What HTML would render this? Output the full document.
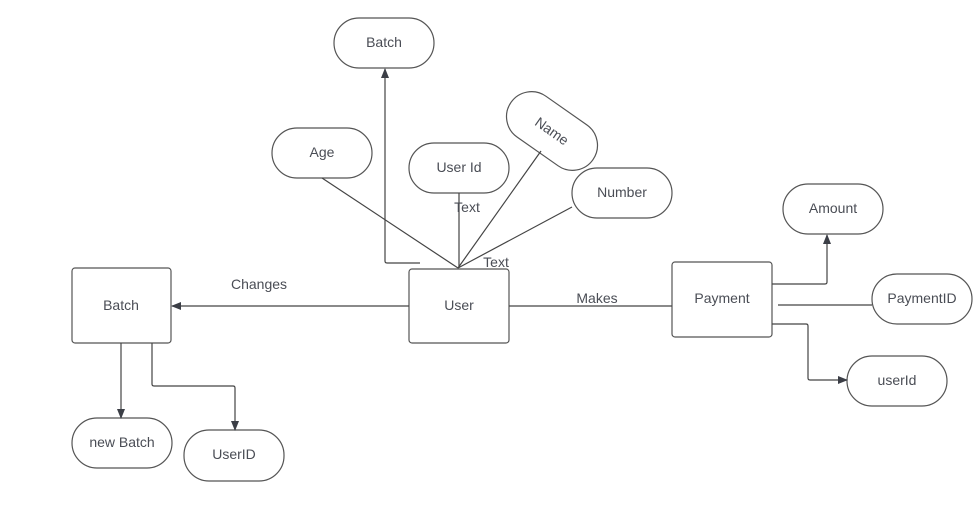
<!DOCTYPE html>
<html><head><meta charset="utf-8"><style>
html,body{margin:0;padding:0;background:#fff;}
svg{display:block;}
text{font-family:"Liberation Sans",sans-serif;font-size:14px;fill:#4a4d55;}
</style></head><body>
<svg width="978" height="512" viewBox="0 0 978 512" xmlns="http://www.w3.org/2000/svg">
<defs>
<marker id="a" markerWidth="10" markerHeight="10" refX="9" refY="5" orient="auto" markerUnits="userSpaceOnUse">
<path d="M0,1 L10,5 L0,9 z" fill="#3b3e46"/>
</marker>
</defs>
<g fill="none" stroke="#555" stroke-width="1.2">
<!-- boxes -->
<rect x="72" y="268" width="99" height="75" rx="3"/>
<rect x="409" y="269" width="100" height="74" rx="3"/>
<rect x="672" y="262" width="100" height="75" rx="3"/>
<!-- pills -->
<rect x="334" y="18" width="100" height="50" rx="25"/>
<rect x="272" y="128" width="100" height="50" rx="25"/>
<rect x="409" y="143" width="100" height="50" rx="25"/>
<rect x="572" y="168" width="100" height="50" rx="25"/>
<rect x="502" y="106" width="100" height="50" rx="25" transform="rotate(35 552 131)"/>
<rect x="783" y="184" width="100" height="50" rx="25"/>
<rect x="872" y="274" width="100" height="50" rx="25"/>
<rect x="847" y="356" width="100" height="50" rx="25"/>
<rect x="72" y="418" width="100" height="50" rx="25"/>
<rect x="184" y="430" width="100" height="51" rx="25"/>
</g>
<g fill="none" stroke="#444" stroke-width="1.2">
<!-- user attributes -->
<line x1="322" y1="178" x2="458" y2="268"/>
<line x1="459" y1="193" x2="459" y2="268"/>
<line x1="541" y1="151" x2="458" y2="268"/>
<line x1="572" y1="207" x2="458" y2="268"/>
<path d="M420,263 L387,263 Q385,263 385,261 L385,69" marker-end="url(#a)"/>
<!-- changes / makes -->
<line x1="409" y1="306" x2="172" y2="306" marker-end="url(#a)"/>
<line x1="509" y1="306" x2="672" y2="306"/>
<!-- batch children -->
<line x1="121" y1="343" x2="121" y2="418" marker-end="url(#a)"/>
<path d="M152,343 L152,384 Q152,386 154,386 L233,386 Q235,386 235,388 L235,430" marker-end="url(#a)"/>
<!-- payment children -->
<path d="M772,284 L825,284 Q827,284 827,282 L827,235" marker-end="url(#a)"/>
<line x1="778" y1="305" x2="872" y2="305"/>
<path d="M772,324 L806,324 Q808,324 808,326 L808,378 Q808,380 810,380 L847,380" marker-end="url(#a)"/>
</g>
<g text-anchor="middle">
<text x="121" y="310">Batch</text>
<text x="459" y="310">User</text>
<text x="722" y="303">Payment</text>
<text x="384" y="47">Batch</text>
<text x="322" y="157">Age</text>
<text x="459" y="172">User Id</text>
<text x="622" y="197">Number</text>
<text x="552" y="136" transform="rotate(35 552 131)">Name</text>
<text x="833" y="213">Amount</text>
<text x="922" y="303">PaymentID</text>
<text x="897" y="385">userId</text>
<text x="122" y="447">new Batch</text>
<text x="234" y="459">UserID</text>
<text x="467" y="212">Text</text>
<text x="496" y="267">Text</text>
<text x="259" y="289">Changes</text>
<text x="597" y="303">Makes</text>
</g>
</svg>
</body></html>
